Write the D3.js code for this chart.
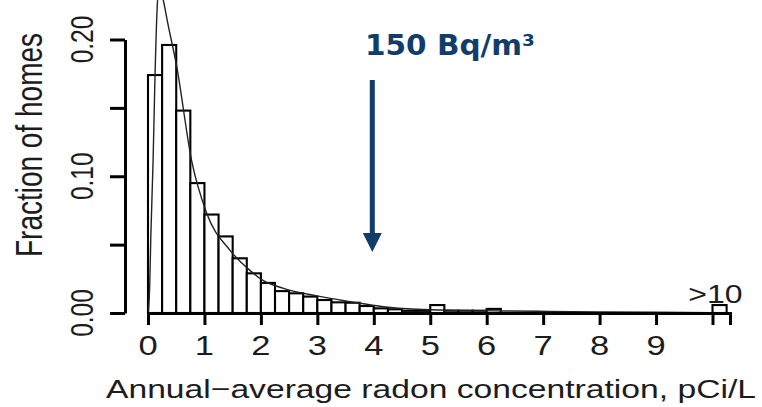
<!DOCTYPE html>
<html>
<head>
<meta charset="utf-8">
<script src="https://cdn.jsdelivr.net/npm/d3@7"></script>
<style>
  body { margin: 0; background: #fff; }
  svg { display: block; }
</style>
</head>
<body>
<svg id="chart"></svg>
<script>
// histogram bins (left edge, pCi/L) and fraction of homes per 0.25 bin
var binStarts = [0, 0.25, 0.5, 0.75, 1, 1.25, 1.5, 1.75, 2, 2.25, 2.5, 2.75,
                 3, 3.25, 3.5, 3.75, 4, 4.25, 4.5, 4.75, 5, 5.25, 5.5, 5.75, 6, 10];
var fractions = [0.174, 0.196, 0.148, 0.095, 0.072, 0.056, 0.040, 0.029, 0.022, 0.016,
                 0.0144, 0.012, 0.0095, 0.0078, 0.0075, 0.0051, 0.0034, 0.0027, 0.0016,
                 0.0016, 0.0058, 0.0017, 0.0017, 0.0017, 0.003, 0.0058];
var binWidth = 0.25;

// fitted curve
var curveX = [0.01, 0.03, 0.05, 0.09, 0.12, 0.16, 0.20, 0.27, 0.35, 0.51, 0.77, 1.04,
              1.45, 1.81, 2.03, 2.40, 2.99, 3.58, 4.17, 4.76, 5.5, 6.3, 7.1, 8.0, 9.0, 10.0];
var curveY = [0.001, 0.02, 0.056, 0.111, 0.166, 0.221, 0.240, 0.229, 0.212, 0.180, 0.112, 0.073,
              0.046, 0.031, 0.024, 0.018, 0.0125, 0.0083, 0.0046, 0.0027, 0.0019, 0.0015,
              0.0012, 0.0008, 0.0005, 0.0003];

var xTicks = [0, 1, 2, 3, 4, 5, 6, 7, 8, 9, 10];
var xLabels = ["0", "1", "2", "3", "4", "5", "6", "7", "8", "9", ""];
var yTicks = [0, 0.05, 0.10, 0.15, 0.20];
var yLabels = ["0.00", "", "0.10", "", "0.20"];

var limitValue = 4; // 150 Bq/m3 ~ 4 pCi/L
var limitText = "150 Bq/m³";

var W = 762, H = 407;
var ink = "#1c1c1c";
var navy = "#123d6b";
var stretch = 1.28;

var svg = d3.select("#chart").attr("width", W).attr("height", H);

var x = d3.scaleLinear().domain([0, 10.31]).range([148, 730]);
var y = d3.scaleLinear().domain([0, 0.20]).range([313, 39.5]);

// bars
svg.append("g")
  .selectAll("rect")
  .data(binStarts)
  .enter()
  .append("rect")
  .attr("x", function(d) { return x(d); })
  .attr("y", function(d, i) { return y(fractions[i]); })
  .attr("width", function(d) { return x(d + binWidth) - x(d); })
  .attr("height", function(d, i) { return y(0) - y(fractions[i]); })
  .attr("fill", "#fff")
  .attr("stroke", "#000")
  .attr("stroke-width", 2.1);

// fitted curve
var line = d3.line()
  .x(function(d, i) { return x(curveX[i]); })
  .y(function(d) { return y(d); })
  .curve(d3.curveMonotoneX);

svg.append("path")
  .datum(curveY)
  .attr("d", line)
  .attr("fill", "none")
  .attr("stroke", "#222")
  .attr("stroke-width", 1.4);

// x axis
var xAxis = svg.append("g")
  .attr("transform", "translate(0," + y(0) + ")")
  .call(d3.axisBottom(x).tickValues(xTicks).tickSize(12).tickSizeOuter(12).tickFormat(""));
xAxis.selectAll("path, line").attr("stroke", "#000").attr("stroke-width", 3);

svg.append("g")
  .selectAll("text")
  .data(xTicks)
  .enter()
  .append("text")
  .attr("transform", function(d) { return "translate(" + x(d) + ",355) scale(" + stretch + ",1)"; })
  .attr("text-anchor", "middle")
  .attr("font-family", "Liberation Sans, Arial, sans-serif")
  .attr("font-size", 27)
  .attr("fill", ink)
  .text(function(d, i) { return xLabels[i]; });

// y axis
var yAxis = svg.append("g")
  .attr("transform", "translate(125,0)")
  .call(d3.axisLeft(y).tickValues(yTicks).tickSize(15).tickSizeOuter(0).tickFormat(""));
yAxis.selectAll("path, line").attr("stroke", "#000").attr("stroke-width", 3);

svg.append("g")
  .selectAll("text")
  .data(yTicks)
  .enter()
  .append("text")
  .attr("transform", function(d) { return "translate(93," + y(d) + ") scale(" + stretch + ",1) rotate(-90)"; })
  .attr("text-anchor", "middle")
  .attr("font-family", "Liberation Sans, Arial, sans-serif")
  .attr("font-size", 24.5)
  .attr("fill", ink)
  .text(function(d, i) { return yLabels[i]; });

// axis titles
svg.append("text")
  .attr("transform", "translate(42,145) scale(1.3,1) rotate(-90)")
  .attr("text-anchor", "middle")
  .attr("font-family", "Liberation Sans, Arial, sans-serif")
  .attr("font-size", 28)
  .attr("fill", ink)
  .text("Fraction of homes");

svg.append("text")
  .attr("x", 106)
  .attr("y", 398)
  .attr("textLength", 650)
  .attr("lengthAdjust", "spacingAndGlyphs")
  .attr("font-family", "Liberation Sans, Arial, sans-serif")
  .attr("font-size", 26)
  .attr("fill", ink)
  .text("Annual\u2212average radon concentration, pCi/L");

// label over the last bin
svg.append("text")
  .attr("transform", "translate(" + (x(10) + 3) + ",303) scale(" + stretch + ",1)")
  .attr("text-anchor", "middle")
  .attr("font-family", "Liberation Sans, Arial, sans-serif")
  .attr("font-size", 25)
  .attr("fill", ink)
  .text(">10");

// 150 Bq/m3 arrow and label
var ax = x(limitValue) - 1.5;
svg.append("line")
  .attr("x1", ax).attr("x2", ax)
  .attr("y1", 80).attr("y2", 236)
  .attr("stroke", navy)
  .attr("stroke-width", 5);
svg.append("path")
  .attr("d", "M" + (ax - 9.5) + ",233L" + (ax + 9.5) + ",233L" + ax + ",252Z")
  .attr("fill", navy);

svg.append("text")
  .attr("x", 365)
  .attr("y", 55)
  .attr("textLength", 170)
  .attr("lengthAdjust", "spacingAndGlyphs")
  .attr("font-family", "DejaVu Sans, Verdana, sans-serif")
  .attr("font-weight", "bold")
  .attr("font-size", 27.5)
  .attr("fill", navy)
  .text(limitText);
</script>
</body>
</html>
